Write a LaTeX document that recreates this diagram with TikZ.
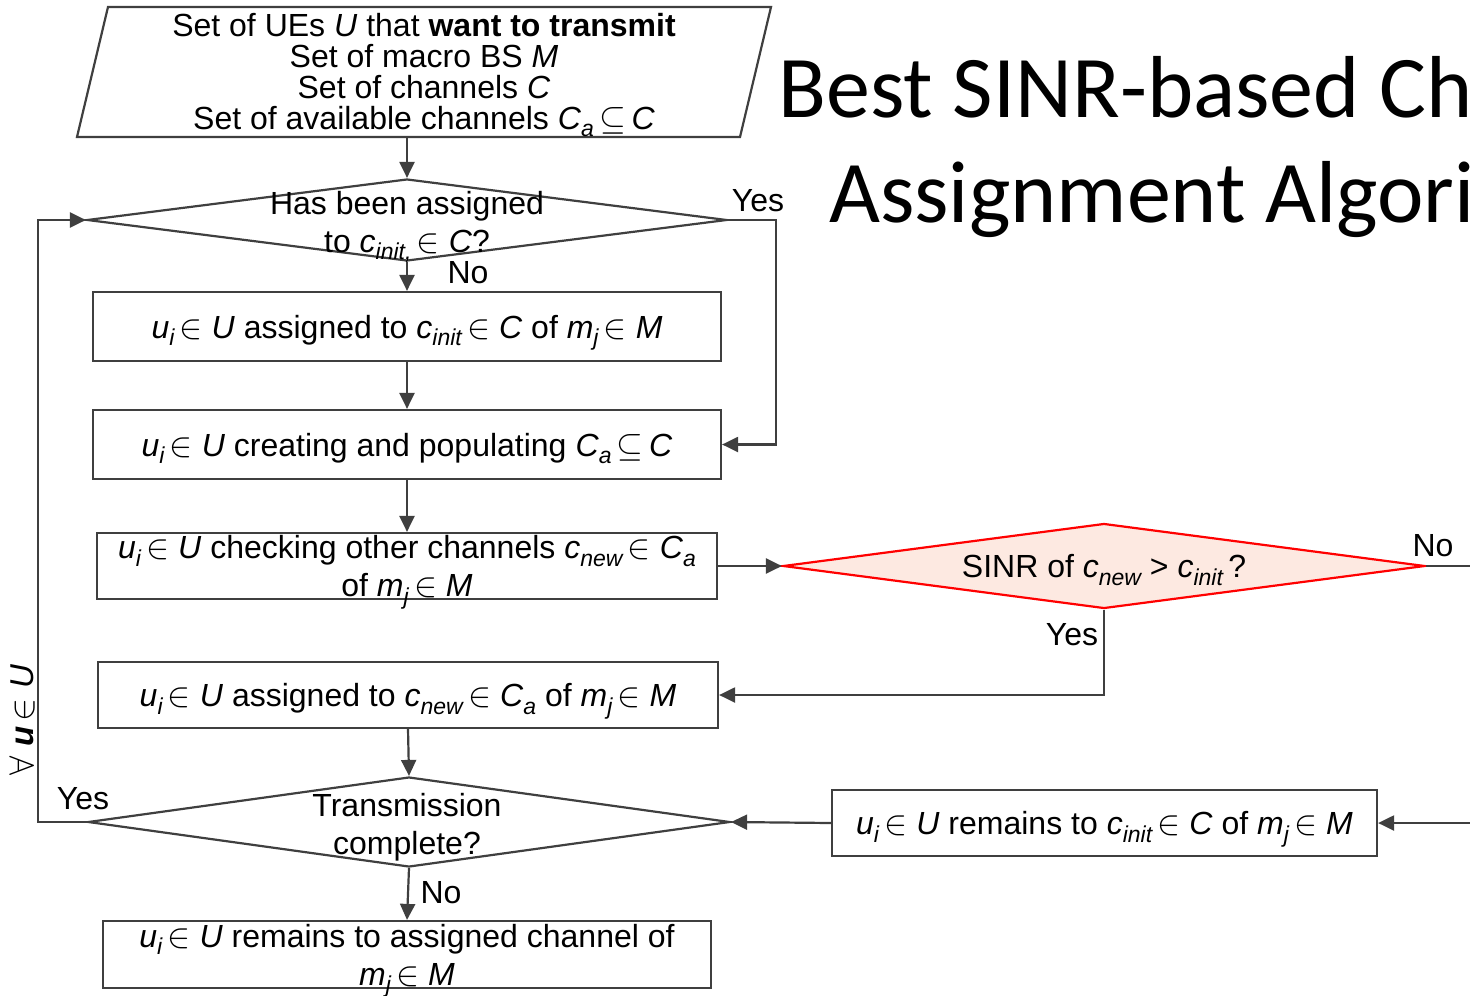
\documentclass[tikz,border=0pt]{standalone}
\usepackage{fontspec}
\setmainfont{Liberation Sans}
\newfontfamily\titlefont{Carlito}
\usetikzlibrary{arrows.meta,shapes.geometric}
\definecolor{ln}{HTML}{3F3F3F}
\definecolor{dfill}{HTML}{FDE9E1}
\definecolor{dred}{HTML}{FF0000}
\newcommand{\sbs}[1]{\raisebox{-0.45ex}{\fontsize{11.5}{11.5}\selectfont\itshape #1}}
\newcommand{\ein}{\,\ensuremath{\in}\ }
\newcommand{\iv}[1]{\textit{#1}}
\newcommand{\mainsz}{\fontsize{16}{19}\selectfont}
\begin{document}
\begin{tikzpicture}[x=0.5pt,y=-0.5pt,
  box/.style={draw=ln, line width=1.1pt, rectangle, inner sep=0pt, align=center, font=\mainsz, text depth=-2pt},
  dia/.style={draw=ln, line width=1.1pt, diamond, inner sep=0pt},
  arr/.style={draw=ln, line width=1.1pt, -{Triangle[length=8pt,width=7.5pt]}},
  plain/.style={draw=ln, line width=1.1pt},
  txt/.style={inner sep=0pt, align=center, font=\mainsz},
  lbl/.style={inner sep=0pt, font=\mainsz}]
\path[use as bounding box] (0,0) rectangle (1470,995);
\clip (0,0) rectangle (1470,995);

% title
\node[inner sep=0pt, anchor=base, font=\titlefont\fontsize{44}{52}\selectfont] (t1) at (1225,118) {Best SINR-based Channel};
\node[inner sep=0pt, anchor=base, font=\titlefont\fontsize{44}{52}\selectfont] (t2) at (1225,222) {Assignment Algorithm};

% input parallelogram
\draw[plain] (108,7) -- (771,7) -- (740,137) -- (77,137) -- cycle;
\node[txt, font=\fontsize{16}{15.5}\selectfont] (in) at (424,75) {Set of UEs \iv{U} that \textbf{want to transmit}\\Set of macro BS \iv{M}\\Set of channels \iv{C}\\Set of available channels \iv{C}\sbs{a}\,$\subseteq$\,\iv{C}};
\coordinate (inb) at (407,137);

% decision 1
\node[dia, minimum width=320pt, minimum height=41pt] (d1) at (407,220) {};
\node[txt] (d1t) at (407,227) {Has been assigned\\to \iv{c}\sbs{init,}\ein\iv{C}?};

% boxes
\node[box, minimum width=314pt, minimum height=34.5pt] (b1) at (407,326.5) {\iv{u}\sbs{i}\ein\iv{U} assigned to \iv{c}\sbs{init}\ein\iv{C} of \iv{m}\sbs{j}\ein\iv{M}};
\node[box, minimum width=314pt, minimum height=34.5pt] (b2) at (407,444.5) {\iv{u}\sbs{i}\ein\iv{U} creating and populating \iv{C}\sbs{a}\,$\subseteq$\,\iv{C}};
\node[box, minimum width=310pt, minimum height=33pt] (b3) at (407,566) {\iv{u}\sbs{i}\ein\iv{U} checking other channels \iv{c}\sbs{new}\ein\iv{C}\sbs{a}\\of \iv{m}\sbs{j}\ein\iv{M}};
\node[box, minimum width=310pt, minimum height=33pt] (b4) at (408,695) {\iv{u}\sbs{i}\ein\iv{U} assigned to \iv{c}\sbs{new}\ein\iv{C}\sbs{a} of \iv{m}\sbs{j}\ein\iv{M}};
\node[box, minimum width=272.5pt, minimum height=33pt] (b5) at (1104.5,823) {\iv{u}\sbs{i}\ein\iv{U} remains to \iv{c}\sbs{init}\ein\iv{C} of \iv{m}\sbs{j}\ein\iv{M}};
\node[box, minimum width=304pt, minimum height=33.5pt] (b6) at (407,954.5) {\iv{u}\sbs{i}\ein\iv{U} remains to assigned channel of\\\iv{m}\sbs{j}\ein\iv{M}};

% decision SINR
\node[dia, draw=dred, fill=dfill, minimum width=321pt, minimum height=42.5pt] (d3) at (1104,566) {};
\node[txt] (d3t) at (1104,570) {SINR of \iv{c}\sbs{new} > \iv{c}\sbs{init}\,?};

% decision 2
\node[dia, minimum width=321pt, minimum height=45pt] (d2) at (409,822) {};
\node[txt] (d2t) at (407,827) {Transmission\\complete?};

% coordinates
\coordinate (c1) at (776,220);
\coordinate (c2) at (38,822);
\coordinate (rout) at (1470,566);
\coordinate (rin) at (1470,823);

% connectors
\draw[arr] (inb) -- (d1.north);
\draw[arr] (d1.south) -- (b1.north);
\draw[arr] (b1.south) -- (b2.north);
\draw[arr] (b2.south) -- (b3.north);
\draw[arr] (b3.east) -- (d3.west);
\draw[arr] (d3.south) |- (b4.east);
\draw[arr] (b4.south) -- (d2.north);
\draw[arr] (d2.south) -- (b6.north);
\draw[arr] (b5.west) -- (d2.east);
\draw[arr] (rin) -- (b5.east);
\draw[plain] (d3.east) -- (rout);
\draw[arr] (d1.east) -- (c1) |- (b2.east);
\draw[arr] (d2.west) -- (c2) |- (d1.west);

% labels
\node[lbl] (y1) at (758,201) {Yes};
\node[lbl] (n1) at (468,273) {No};
\node[lbl] (n3) at (1433,546) {No};
\node[lbl] (y3) at (1072,635) {Yes};
\node[lbl] (y2) at (83,799) {Yes};
\node[lbl] (n2) at (441,893) {No};
\node[lbl, rotate=90, font=\fontsize{16.5}{19}\selectfont] (fa) at (22,720) {$\forall$ \textbf{\iv{u}}\ein\iv{U}};
\end{tikzpicture}
\end{document}
